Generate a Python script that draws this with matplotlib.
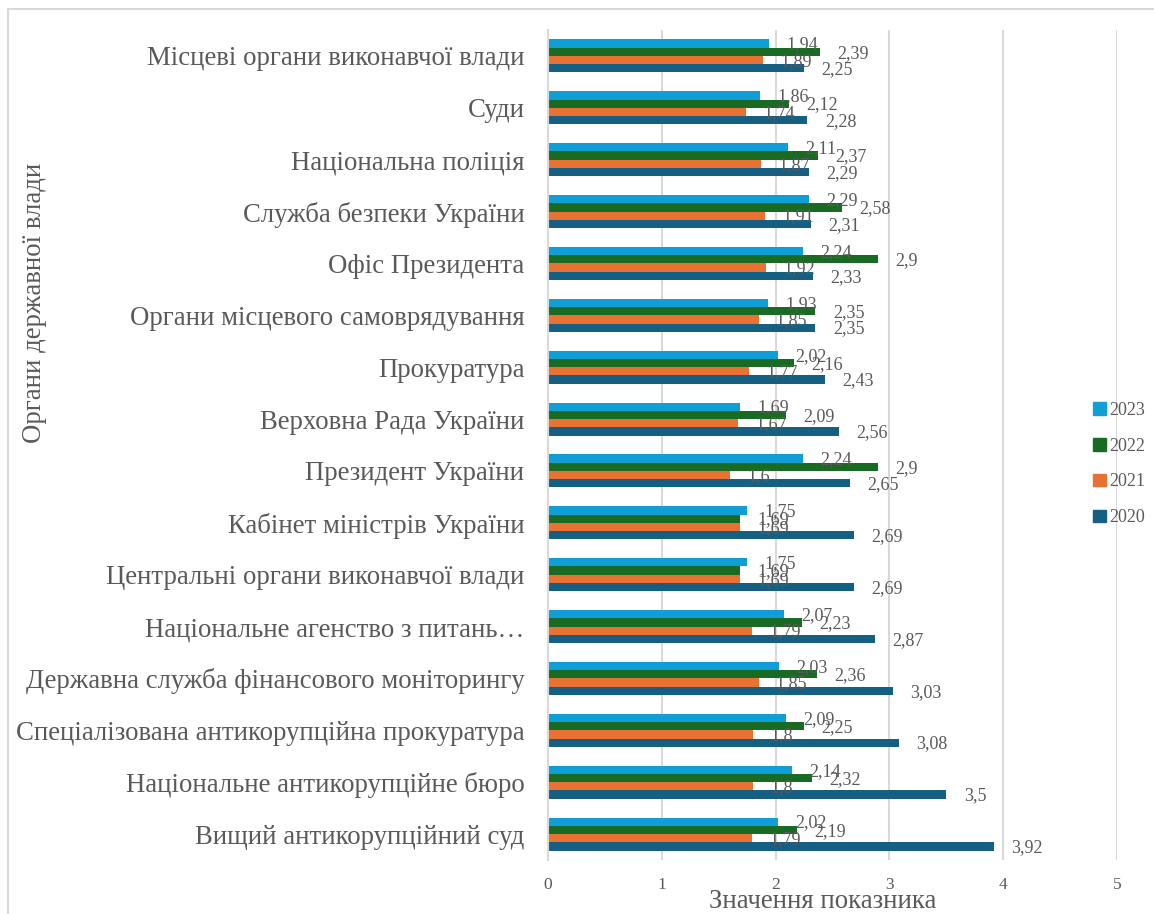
import matplotlib
matplotlib.use('Agg')
import matplotlib.pyplot as plt
import numpy as np
from matplotlib.lines import Line2D
from matplotlib.patches import Patch

plt.rcParams['font.family'] = ['Liberation Serif', 'DejaVu Serif']

# Органи влади (зверху вниз, як на рисунку)
organy = [
    'Місцеві органи виконавчої влади',
    'Суди',
    'Національна поліція',
    'Служба безпеки України',
    'Офіс Президента',
    'Органи місцевого самоврядування',
    'Прокуратура',
    'Верховна Рада України',
    'Президент України',
    'Кабінет міністрів України',
    'Центральні органи виконавчої влади',
    'Національне агенство з питань…',
    'Державна служба фінансового моніторингу',
    'Спеціалізована антикорупційна прокуратура',
    'Національне антикорупційне бюро',
    'Вищий антикорупційний суд',
]

roky = ['2020', '2021', '2022', '2023']

v2023 = [1.94, 1.86, 2.11, 2.29, 2.24, 1.93, 2.02, 1.69, 2.24, 1.75, 1.75, 2.07, 2.03, 2.09, 2.14, 2.02]
v2022 = [2.39, 2.12, 2.37, 2.58, 2.9, 2.35, 2.16, 2.09, 2.9, 1.69, 1.69, 2.23, 2.36, 2.25, 2.32, 2.19]
v2021 = [1.89, 1.74, 1.87, 1.91, 1.92, 1.85, 1.77, 1.67, 1.6, 1.69, 1.69, 1.79, 1.85, 1.8, 1.8, 1.79]
v2020 = [2.25, 2.28, 2.29, 2.31, 2.33, 2.35, 2.43, 2.56, 2.65, 2.69, 2.69, 2.87, 3.03, 3.08, 3.5, 3.92]

kolory = {'2020': '#156082', '2021': '#E97132', '2022': '#196B24', '2023': '#0F9ED5'}
szary = '#595959'

fig = plt.figure(figsize=(11.54, 9.14), dpi=100)
ax = fig.add_axes([548 / 1154, 1 - 860 / 914, 569 / 1154, 830 / 914])

n = len(organy)
y = np.arange(n)[::-1]  # перша категорія нагорі
h = 0.159
serie = [v2020, v2021, v2022, v2023]
for i, (rok, wart) in enumerate(zip(roky, serie)):
    yy = y + (i - 1.5) * h
    ax.barh(yy, wart, height=h, color=kolory[rok], label=rok)
    for xv, yv in zip(wart, yy):
        ax.annotate(str(xv).replace('.', ','), (xv, yv), xytext=(12.5, -1),
                    textcoords='offset points', va='center', ha='left',
                    fontsize=13, color=szary)

ax.set_xlim(0, 5)
ax.set_ylim(-0.5, n - 0.5)
ax.set_xticks(range(6))
ax.set_yticks(y)
ax.set_yticklabels(organy, fontsize=19.3, color=szary)
ax.tick_params(axis='y', length=0, pad=17)
ax.tick_params(axis='x', length=0, pad=12, labelsize=12.5, labelcolor=szary)
ax.grid(axis='x', color='#D9D9D9', linewidth=1.5)
ax.set_axisbelow(True)
for s in ['top', 'right', 'bottom']:
    ax.spines[s].set_visible(False)
ax.spines['left'].set_color('#D9D9D9')
ax.spines['left'].set_linewidth(1.5)

# Легенда
uchwyty = [Patch(color=kolory[r], label=r) for r in roky[::-1]]
fig.legend(handles=uchwyty, loc='center left', bbox_to_anchor=(1084 / 1154, 1 - 464 / 914),
           frameon=False, fontsize=13, handlelength=0.7, handleheight=0.7,
           handletextpad=0.2, labelspacing=1.05, borderpad=0, labelcolor=szary)

# Підписи осей
fig.text(35 / 1154, 1 - 303 / 914, 'Органи державної влади', rotation=90,
         ha='center', va='center', fontsize=19.3, color=szary)
fig.text(823 / 1154, 1 - 902 / 914, 'Значення показника',
         ha='center', va='center', fontsize=19.3, color=szary)

# Рамка діаграми
fig.add_artist(Line2D([8 / 1154, 1.0], [1 - 9 / 914] * 2, color='#D9D9D9', lw=1.5))
fig.add_artist(Line2D([8 / 1154] * 2, [0, 1 - 9 / 914], color='#D9D9D9', lw=1.5))

fig.savefig('out.png', dpi=100)
